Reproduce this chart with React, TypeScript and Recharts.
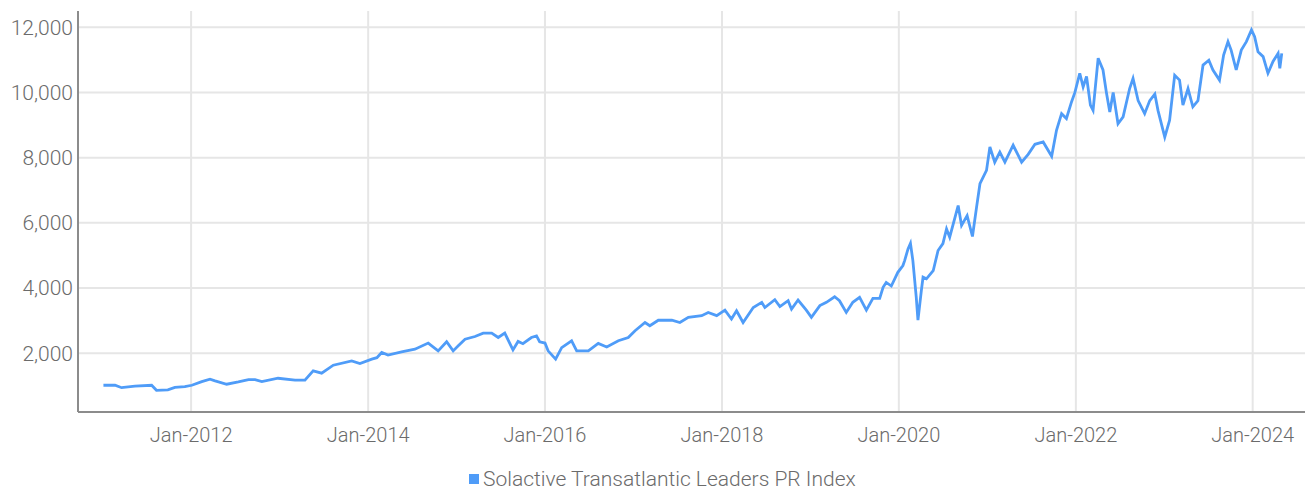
import { LineChart, Line, XAxis, YAxis, ReferenceLine, Legend } from "recharts";

const dates = [
    "2011-01-04", "2011-02-21", "2011-03-20", "2011-05-14", "2011-07-22", "2011-08-11", "2011-09-27", "2011-10-26", "2011-12-06",
    "2012-01-04", "2012-02-14", "2012-03-19", "2012-04-09", "2012-05-27", "2012-07-14", "2012-08-25", "2012-09-21", "2012-10-19", "2012-12-25",
    "2013-03-05", "2013-04-15", "2013-05-19", "2013-06-23", "2013-08-10", "2013-10-25", "2013-11-28",
    "2014-01-16", "2014-02-06", "2014-02-26", "2014-03-24", "2014-05-19", "2014-07-13", "2014-09-06", "2014-10-17", "2014-11-21", "2014-12-18",
    "2015-01-08", "2015-02-05", "2015-03-18", "2015-04-21", "2015-05-26", "2015-06-22", "2015-07-19", "2015-08-22", "2015-09-12", "2015-10-02", "2015-11-06", "2015-11-27", "2015-12-10",
    "2016-01-01", "2016-01-14", "2016-02-14", "2016-03-10", "2016-04-20", "2016-05-11", "2016-06-28", "2016-08-08", "2016-09-12", "2016-10-30", "2016-12-10",
    "2017-01-07", "2017-02-17", "2017-03-09", "2017-04-13", "2017-06-08", "2017-07-11", "2017-08-15", "2017-10-09", "2017-11-05", "2017-12-10",
    "2018-01-13", "2018-02-09", "2018-03-02", "2018-03-29", "2018-05-10", "2018-06-14", "2018-06-27", "2018-08-07", "2018-08-28", "2018-10-01", "2018-10-15", "2018-11-11", "2018-12-15",
    "2019-01-05", "2019-02-09", "2019-03-08", "2019-04-11", "2019-05-01", "2019-05-29", "2019-06-25", "2019-07-23", "2019-08-20", "2019-09-16", "2019-10-14", "2019-10-28", "2019-11-10", "2019-12-01", "2019-12-28",
    "2020-01-18", "2020-01-25", "2020-02-08", "2020-02-18", "2020-02-28", "2020-03-13", "2020-03-20", "2020-04-03", "2020-04-10", "2020-04-24", "2020-05-22", "2020-06-11", "2020-07-01", "2020-07-16", "2020-07-29", "2020-09-02", "2020-09-16", "2020-10-09", "2020-10-31", "2020-11-17", "2020-12-01", "2020-12-28",
    "2021-01-11", "2021-01-31", "2021-02-21", "2021-03-14", "2021-04-17", "2021-05-22", "2021-06-18", "2021-07-16", "2021-08-19", "2021-09-23", "2021-10-13", "2021-11-03", "2021-11-23", "2021-12-14", "2021-12-28",
    "2022-01-17", "2022-01-31", "2022-02-14", "2022-03-02", "2022-03-13", "2022-04-03", "2022-04-23", "2022-05-07", "2022-05-21", "2022-06-04", "2022-06-24", "2022-07-15", "2022-08-11", "2022-08-25", "2022-09-15", "2022-10-12", "2022-11-02", "2022-11-23", "2022-12-06",
    "2023-01-03", "2023-01-23", "2023-02-13", "2023-03-05", "2023-03-19", "2023-04-09", "2023-04-29", "2023-05-20", "2023-06-10", "2023-07-04", "2023-07-21", "2023-08-17", "2023-09-03", "2023-09-21", "2023-10-04", "2023-10-25", "2023-11-15", "2023-12-06", "2023-12-27",
    "2024-01-09", "2024-01-23", "2024-02-13", "2024-03-04", "2024-03-25", "2024-04-15", "2024-04-22", "2024-04-30",
];

const indexValues = [
    1015, 1020, 940, 985, 1015, 860, 875, 950, 970,
    1015, 1126, 1200, 1150, 1046, 1117, 1190, 1190, 1130, 1230,
    1170, 1170, 1455, 1385, 1630, 1763, 1680,
    1815, 1860, 2020, 1940, 2040, 2120, 2310, 2070, 2350, 2070,
    2225, 2430, 2510, 2615, 2615, 2480, 2615, 2100, 2360, 2290, 2480, 2530, 2350,
    2310, 2070, 1815, 2170, 2380, 2070, 2070, 2300, 2190, 2380, 2480,
    2690, 2940, 2840, 3010, 3010, 2940, 3100, 3150, 3250, 3150,
    3320, 3045, 3300, 2940, 3400, 3560, 3400, 3640, 3430, 3610, 3350, 3630, 3320,
    3100, 3460, 3560, 3730, 3610, 3250, 3560, 3710, 3320, 3680, 3680, 4020, 4170, 4060, 4480,
    4690, 4840, 5200, 5370, 4840, 3710, 3015, 3920, 4330, 4280, 4530, 5150, 5360, 5810, 5560, 6530, 5920, 6220, 5580, 6480, 7200, 7610,
    8330, 7860, 8170, 7860, 8380, 7860, 8100, 8410, 8480, 8040, 8840, 9350, 9200, 9710, 10000,
    10590, 10170, 10490, 9610, 9450, 11050, 10690, 10000, 9400, 10000, 9040, 9250, 10120, 10430, 9750, 9350, 9750, 9950, 9450,
    8630, 9150, 10530, 10380, 9610, 10120, 9560, 9750, 10840, 10990, 10690, 10380, 11150, 11560, 11300, 10690, 11300, 11560, 11920,
    11710, 11250, 11100, 10590, 10950, 11200, 10740, 11200,
];

const tickYears = [2012, 2014, 2016, 2018, 2020, 2022, 2024];
const yTicks = [2000, 4000, 6000, 8000, 10000, 12000];
const seriesName = "Solactive Transatlantic Leaders PR Index";

const toTs = (s: string) => {
    const [y, m, d] = s.split("-").map(Number);
    return Date.UTC(y, m - 1, d);
};

const data = dates.map((d, i) => ({ t: toTs(d), value: indexValues[i] }));
const xTicks = tickYears.map((y) => Date.UTC(y, 0, 1));

const font = "Roboto, sans-serif";
const lineColor = "#4f9cf8";
const gridColor = "#e6e6e6";
const textColor = "#6b6b6b";

function LegendBox() {
    return (
        <div style={{ height: 30, display: "flex", alignItems: "center", paddingLeft: 469, paddingTop: 3, fontFamily: font, fontWeight: 300, fontSize: 21, color: textColor }}>
            <span style={{ width: 10, height: 10, background: lineColor, marginRight: 4, display: "inline-block" }} />
            <span>{seriesName}</span>
        </div>
    );
}

export default function App() {
    return (
        <div style={{ position: "absolute", left: 0, top: 0, width: 1306, height: 494, background: "#fff" }}>
            <LineChart width={1306} height={494} data={data} margin={{ top: 11, right: 1, bottom: 0, left: 0 }}>
                <XAxis
                    dataKey="t"
                    type="number"
                    domain={[toTs("2010-09-21"), toTs("2024-08-04")]}
                    ticks={xTicks}
                    tickFormatter={(v) => "Jan-" + new Date(v).getUTCFullYear()}
                    height={49}
                    tickSize={0}
                    tickMargin={16}
                    stroke="#8c8c8c"
                    strokeWidth={2}
                    tick={{ fill: textColor, fontSize: 20, fontFamily: font, fontWeight: 300 }}
                />
                <YAxis
                    type="number"
                    domain={[194, 12500]}
                    ticks={yTicks}
                    tickFormatter={(v) => Number(v).toLocaleString("en-US")}
                    width={78}
                    tickSize={0}
                    tickMargin={5}
                    stroke="#8c8c8c"
                    strokeWidth={2}
                    tick={{ fill: textColor, fontSize: 21, fontFamily: font, fontWeight: 300 }}
                />
                {yTicks.map((v) => (
                    <ReferenceLine key={"y" + v} y={v} stroke={gridColor} strokeWidth={2} />
                ))}
                {xTicks.map((t) => (
                    <ReferenceLine key={"x" + t} x={t} stroke={gridColor} strokeWidth={2} />
                ))}
                <Legend verticalAlign="bottom" align="left" content={() => <LegendBox />} />
                <Line
                    type="linear"
                    dataKey="value"
                    name={seriesName}
                    stroke={lineColor}
                    strokeWidth={2.8}
                    dot={false}
                    isAnimationActive={false}
                />
            </LineChart>
        </div>
    );
}
